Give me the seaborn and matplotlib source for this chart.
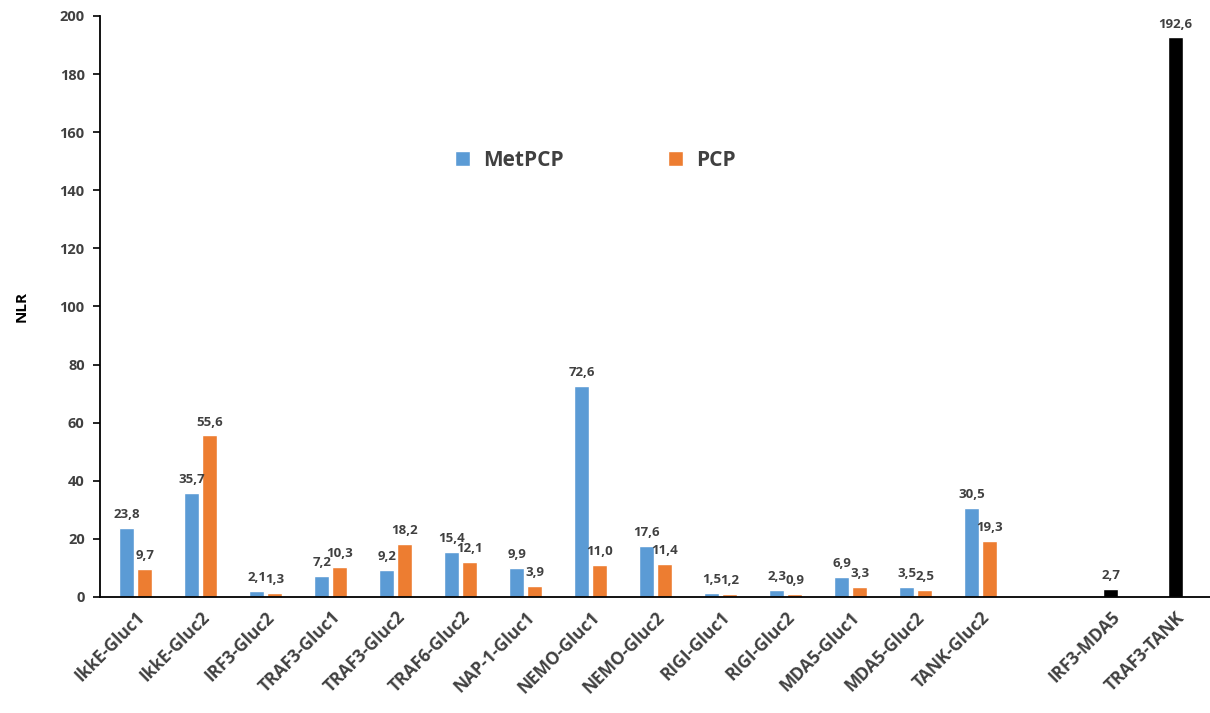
import pandas as pd
import numpy as np
import matplotlib.pyplot as plt
import seaborn as sns

# data
groups = ["IkkE-Gluc1", "IkkE-Gluc2", "IRF3-Gluc2", "TRAF3-Gluc1", "TRAF3-Gluc2",
          "TRAF6-Gluc2", "NAP-1-Gluc1", "NEMO-Gluc1", "NEMO-Gluc2", "RIGI-Gluc1",
          "RIGI-Gluc2", "MDA5-Gluc1", "MDA5-Gluc2", "TANK-Gluc2"]
metpcp = [23.8, 35.7, 2.1, 7.2, 9.2, 15.4, 9.9, 72.6, 17.6, 1.5, 2.3, 6.9, 3.5, 30.5]
pcp = [9.7, 55.6, 1.3, 10.3, 18.2, 12.1, 3.9, 11.0, 11.4, 1.2, 0.9, 3.3, 2.5, 19.3]
pairs = ["IRF3-MDA5", "TRAF3-TANK"]
pair_values = [2.7, 192.6]

order = groups + [" ", "IRF3-MDA5", "TRAF3-TANK"]
text_color = "#404040"

df = pd.DataFrame({
    "name": groups * 2,
    "NLR": metpcp + pcp,
    "series": ["MetPCP"] * len(groups) + ["PCP"] * len(groups),
})
df_pairs = pd.DataFrame({"name": pairs, "NLR": pair_values})

sns.set_style("ticks")
plt.rcParams["font.family"] = ["Open Sans", "DejaVu Sans"]

fig = plt.figure(figsize=(12.1, 7.13), dpi=100)
ax = fig.add_axes([0.0826, 0.1627, 0.9174, 0.8149])

sns.barplot(data=df, x="name", y="NLR", hue="series", order=order,
            palette=["#5B9BD5", "#ED7D31"], width=0.553, gap=0.167,
            saturation=1, ax=ax)
sns.barplot(data=df_pairs, x="name", y="NLR", order=order, color="black",
            width=0.23, saturation=1, ax=ax)

def fmt(v):
    return f"{v:.1f}".replace(".", ",")

for c in ax.containers:
    ax.bar_label(c, labels=[fmt(v) for v in c.datavalues], padding=5,
                 fontsize=9.5, fontweight="bold", color=text_color)

ax.set_ylim(0, 200)
ax.set_xlim(-0.55, 16.53)
ax.set_yticks(np.arange(0, 201, 20))
ax.set_xlabel("")
ax.set_ylabel("NLR", fontsize=11, fontweight="bold", color="black", labelpad=22)
sns.despine(ax=ax)
for s in ["left", "bottom"]:
    ax.spines[s].set_color("black")
    ax.spines[s].set_linewidth(1.3)
ax.tick_params(axis="x", length=0, pad=8)
ax.tick_params(axis="y", length=5, width=1.2, color="black", pad=6)
for t in ax.get_yticklabels():
    t.set_fontsize(10.5)
    t.set_fontweight("bold")
    t.set_color(text_color)
for t in ax.get_xticklabels():
    t.set_rotation(45)
    t.set_ha("right")
    t.set_rotation_mode("anchor")
    t.set_fontsize(12.5)
    t.set_fontweight("bold")
    t.set_color(text_color)

sns.move_legend(ax, loc="center", bbox_to_anchor=(0.446, 0.752), ncol=2,
                frameon=False, title=None, columnspacing=5, handlelength=0.75,
                handleheight=0.75, handletextpad=0.6,
                prop={"weight": "bold", "size": 15})
for t in ax.get_legend().get_texts():
    t.set_color(text_color)

fig.savefig("out.png", dpi=100)
